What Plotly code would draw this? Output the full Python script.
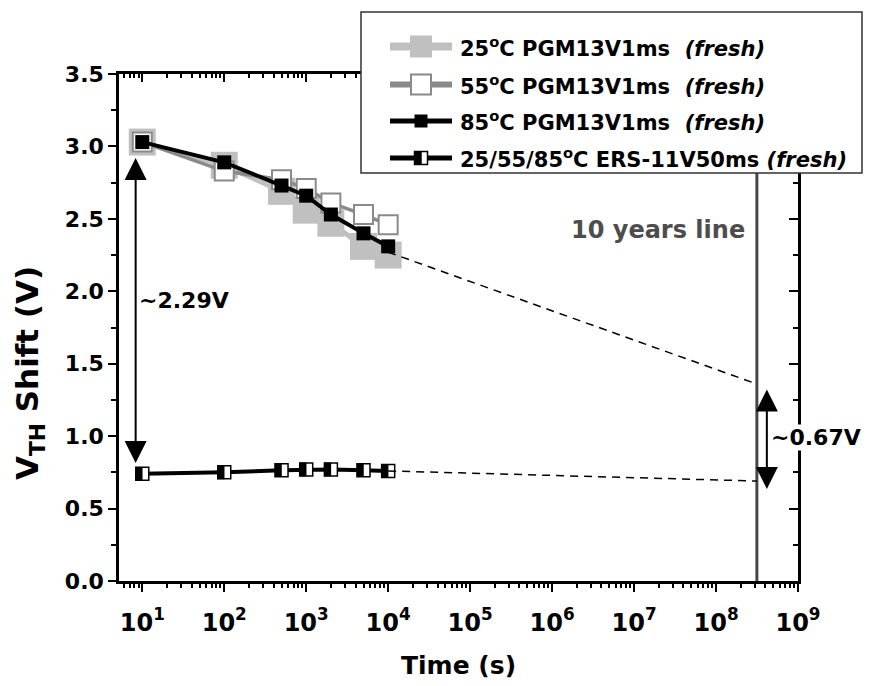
import math
import plotly.graph_objects as go

# ---- measured data: threshold-voltage shift vs. retention time ----
time_s = [10, 100, 500, 1000, 2000, 5000, 10000]
pgm_25c = [3.03, 2.87, 2.69, 2.56, 2.47, 2.31, 2.25]
pgm_55c = [3.03, 2.83, 2.77, 2.71, 2.61, 2.53, 2.46]
pgm_85c = [3.03, 2.89, 2.73, 2.66, 2.53, 2.40, 2.31]
ers_all = [0.74, 0.75, 0.765, 0.77, 0.77, 0.765, 0.76]

# ---- extrapolation to ten years ----
ten_years_s = 3.15e8
extrap_time = [1e4, ten_years_s]
pgm_extrap = [2.27, 1.36]
ers_extrap = [0.76, 0.69]

# ---- memory-window callouts ----
window_initial = 2.29
window_10y = 0.67

# ---- axis ticks ----
x_tick_vals = [1e1, 1e2, 1e3, 1e4, 1e5, 1e6, 1e7, 1e8, 1e9]
x_tick_text = ["10<sup>1</sup>", "10<sup>2</sup>", "10<sup>3</sup>", "10<sup>4</sup>",
               "10<sup>5</sup>", "10<sup>6</sup>", "10<sup>7</sup>", "10<sup>8</sup>",
               "10<sup>9</sup>"]
y_tick_vals = [0.0, 0.5, 1.0, 1.5, 2.0, 2.5, 3.0, 3.5]
y_tick_text = ["0.0", "0.5", "1.0", "1.5", "2.0", "2.5", "3.0", "3.5"]

legend_labels = [
    "25<sup>o</sup>C PGM13V1ms\u00a0\u00a0<i>(fresh)</i>",
    "55<sup>o</sup>C PGM13V1ms\u00a0\u00a0<i>(fresh)</i>",
    "85<sup>o</sup>C PGM13V1ms\u00a0\u00a0<i>(fresh)</i>",
    "25/55/85<sup>o</sup>C ERS-11V50ms <i>(fresh)</i>",
]

# ---- layout geometry (pixels) ----
W, H = 869, 686
L, R, T, B = 119, 798, 74, 581
X_MIN = 5.2
X_MAX = 1e9
Y_MAX = 3.5

FONT = "DejaVu Sans"
LIGHT = "#c0c0c0"
MID = "#8a8a8a"

x_range = [math.log10(X_MIN), math.log10(X_MAX)]
px_per_decade = (R - L) / (x_range[1] - x_range[0])

ERS_SIZE = 13          # erase-state marker edge, px
HALF_SHIFT = ERS_SIZE / 4 / px_per_decade   # quarter-marker offset in decades


def px(xp):
    return (xp - L) / (R - L)


def py(yp):
    return (B - yp) / (B - T)


fig = go.Figure()

# measured curves
fig.add_trace(go.Scatter(
    x=time_s, y=pgm_25c, mode="lines+markers",
    line=dict(color=LIGHT, width=5),
    marker=dict(symbol="square", size=27, color=LIGHT, line=dict(width=0)),
    showlegend=False, hoverinfo="skip"))
fig.add_trace(go.Scatter(
    x=time_s, y=pgm_55c, mode="lines+markers",
    line=dict(color=MID, width=3.5),
    marker=dict(symbol="square", size=19, color="white", line=dict(color=MID, width=2)),
    showlegend=False, hoverinfo="skip"))
fig.add_trace(go.Scatter(
    x=time_s, y=pgm_85c, mode="lines+markers",
    line=dict(color="black", width=4),
    marker=dict(symbol="square", size=14, color="black", line=dict(width=0)),
    showlegend=False, hoverinfo="skip"))
# erase state: white squares with a black left half
fig.add_trace(go.Scatter(
    x=time_s, y=ers_all, mode="lines+markers",
    line=dict(color="black", width=4),
    marker=dict(symbol="square", size=ERS_SIZE, color="white",
                line=dict(color="black", width=1.5)),
    showlegend=False, hoverinfo="skip"))
fig.add_trace(go.Scatter(
    x=time_s, y=ers_all, mode="markers", xaxis="x3", yaxis="y",
    marker=dict(symbol="line-ns", size=ERS_SIZE / 1.4 + 0.5,
                line=dict(color="black", width=ERS_SIZE / 2 + 0.5)),
    showlegend=False, hoverinfo="skip"))

# ten-year extrapolations
for ys in (pgm_extrap, ers_extrap):
    fig.add_trace(go.Scatter(
        x=extrap_time, y=ys, mode="lines",
        line=dict(color="black", width=1.5, dash="8px,6px"),
        showlegend=False, hoverinfo="skip"))

# carrier trace for the mirrored top/right axes
fig.add_trace(go.Scatter(x=[], y=[], xaxis="x2", yaxis="y2",
                         showlegend=False, hoverinfo="skip"))

shapes = []

# ten-year reference line
shapes.append(dict(type="line", xref="x", yref="y",
                   x0=ten_years_s, x1=ten_years_s, y0=0, y1=Y_MAX,
                   line=dict(color="#474747", width=3), layer="below"))

# legend frame
shapes.append(dict(type="rect", xref="paper", yref="paper",
                   x0=px(361), x1=px(862), y0=py(173), y1=py(12),
                   fillcolor="white", line=dict(color="#333333", width=1.5),
                   layer="above"))

row_y = [46.5, 84.5, 121, 158]
line_x0, line_x1, mark_x = 390, 452, 421
legend_styles = [
    dict(lc=LIGHT, lw=8, size=22, fill=LIGHT, edge=None),
    dict(lc=MID, lw=6, size=20, fill="white", edge=MID),
    dict(lc="black", lw=5, size=13, fill="black", edge=None),
    dict(lc="black", lw=5, size=13, fill="half", edge="black"),
]
for yy, st in zip(row_y, legend_styles):
    shapes.append(dict(type="line", xref="paper", yref="paper",
                       x0=px(line_x0), x1=px(line_x1), y0=py(yy), y1=py(yy),
                       line=dict(color=st["lc"], width=st["lw"]), layer="above"))
    h = st["size"] / 2
    box = dict(type="rect", xref="paper", yref="paper",
               x0=px(mark_x - h), x1=px(mark_x + h), y0=py(yy + h), y1=py(yy - h),
               layer="above")
    if st["fill"] == "half":
        shapes.append(dict(box, fillcolor="white", line=dict(color="black", width=1.5)))
        shapes.append(dict(box, x1=px(mark_x + 0.5), fillcolor="black",
                           line=dict(color="black", width=0.5)))
    elif st["edge"]:
        shapes.append(dict(box, fillcolor=st["fill"], line=dict(color=st["edge"], width=2)))
    else:
        shapes.append(dict(box, fillcolor=st["fill"], line=dict(width=0)))

annotations = []
for yy, label in zip(row_y, legend_labels):
    annotations.append(dict(xref="paper", yref="paper", x=px(458), y=py(yy),
                            xanchor="left", yanchor="middle", showarrow=False,
                            text=label,
                            font=dict(family=FONT, size=21, color="black", weight="bold")))

# memory-window arrows
arrow_common = dict(xref="x", yref="y", axref="x", ayref="y", text="", showarrow=True,
                    arrowhead=2, arrowside="end+start", arrowwidth=2, arrowsize=2.2,
                    arrowcolor="black", standoff=0, startstandoff=0)
x_left = math.log10(8.3)
annotations.append(dict(arrow_common, x=x_left, y=0.815, ax=x_left, ay=2.93))
x_right = 8.62
annotations.append(dict(arrow_common, x=x_right, y=0.635, ax=x_right, ay=1.332))

bold = dict(family=FONT, size=22, color="black", weight="bold")
annotations.append(dict(xref="paper", yref="paper", x=px(137), y=py(300),
                        xanchor="left", yanchor="middle", showarrow=False,
                        text=f"~{window_initial:.2f}V", font=bold))
annotations.append(dict(xref="paper", yref="paper", x=px(770), y=py(437),
                        xanchor="left", yanchor="middle", showarrow=False,
                        text=f"~{window_10y:.2f}V", font=bold,
                        bgcolor="white", borderpad=0))
annotations.append(dict(xref="paper", yref="paper", x=px(747), y=py(230),
                        xanchor="right", yanchor="middle", showarrow=False,
                        text="10 years line",
                        font=dict(family=FONT, size=24, color="#4d4d4d", weight="bold")))

# axis titles
annotations.append(dict(xref="paper", yref="paper", x=px(458), y=py(665),
                        xanchor="center", yanchor="middle", showarrow=False,
                        text="Time (s)",
                        font=dict(family=FONT, size=25, color="black", weight="bold")))
annotations.append(dict(xref="paper", yref="paper", x=px(29), y=py(373),
                        xanchor="center", yanchor="middle", showarrow=False,
                        textangle=-90, text="V<sub>TH</sub> Shift (V)",
                        font=dict(family=FONT, size=31, color="black", weight="bold")))

x_minor = [m * 10 ** k for k in range(0, 9) for m in range(2, 10)
           if X_MIN <= m * 10 ** k <= X_MAX]
y_minor = [0.25 + 0.5 * i for i in range(7)]
x_tickfont = dict(family=FONT, size=24, color="black", weight="bold")
y_tickfont = dict(family=FONT, size=22, color="black", weight="bold")

fig.update_layout(
    width=W, height=H,
    margin=dict(l=L, r=W - R, t=T, b=H - B, pad=0),
    paper_bgcolor="white", plot_bgcolor="white",
    showlegend=False,
    shapes=shapes, annotations=annotations,
    xaxis=dict(type="log", range=x_range, showgrid=False, zeroline=False,
               showline=True, linecolor="black", linewidth=2.5,
               ticks="outside", ticklen=8, tickwidth=2, tickcolor="black",
               tickmode="array", tickvals=x_tick_vals, ticktext=x_tick_text,
               tickfont=x_tickfont, ticklabelstandoff=10,
               minor=dict(tickmode="array", tickvals=x_minor, ticks="outside",
                          ticklen=4, tickwidth=1.5, tickcolor="black", showgrid=False)),
    yaxis=dict(range=[0, Y_MAX], showgrid=False, zeroline=False,
               showline=True, linecolor="black", linewidth=2.5,
               ticks="outside", ticklen=8, tickwidth=2, tickcolor="black",
               tickmode="array", tickvals=y_tick_vals, ticktext=y_tick_text,
               tickfont=y_tickfont,
               minor=dict(tickmode="array", tickvals=y_minor, ticks="outside",
                          ticklen=5, tickwidth=1.5, tickcolor="black", showgrid=False)),
    xaxis2=dict(type="log", range=x_range, overlaying="x", side="top", anchor="y",
                showgrid=False, zeroline=False, showline=True, linecolor="black",
                linewidth=2.5, ticks="inside", ticklen=8, tickwidth=2, tickcolor="black",
                tickmode="array", tickvals=x_tick_vals, showticklabels=False,
                minor=dict(tickmode="array", tickvals=x_minor, ticks="inside",
                           ticklen=4, tickwidth=1.5, tickcolor="black", showgrid=False)),
    # same scale as x, offset by a quarter marker so the filled half sits on the left
    xaxis3=dict(type="log", overlaying="x", anchor="y", visible=False,
                range=[x_range[0] + HALF_SHIFT, x_range[1] + HALF_SHIFT]),
    yaxis2=dict(range=[0, Y_MAX], overlaying="y", side="right", anchor="x",
                showgrid=False, zeroline=False, showline=True, linecolor="black",
                linewidth=2.5, ticks="inside", ticklen=9, tickwidth=2, tickcolor="black",
                tickmode="array", tickvals=y_tick_vals, showticklabels=False,
                minor=dict(tickmode="array", tickvals=y_minor, ticks="inside",
                           ticklen=5, tickwidth=1.5, tickcolor="black", showgrid=False)),
)

fig.write_html("out.html")
